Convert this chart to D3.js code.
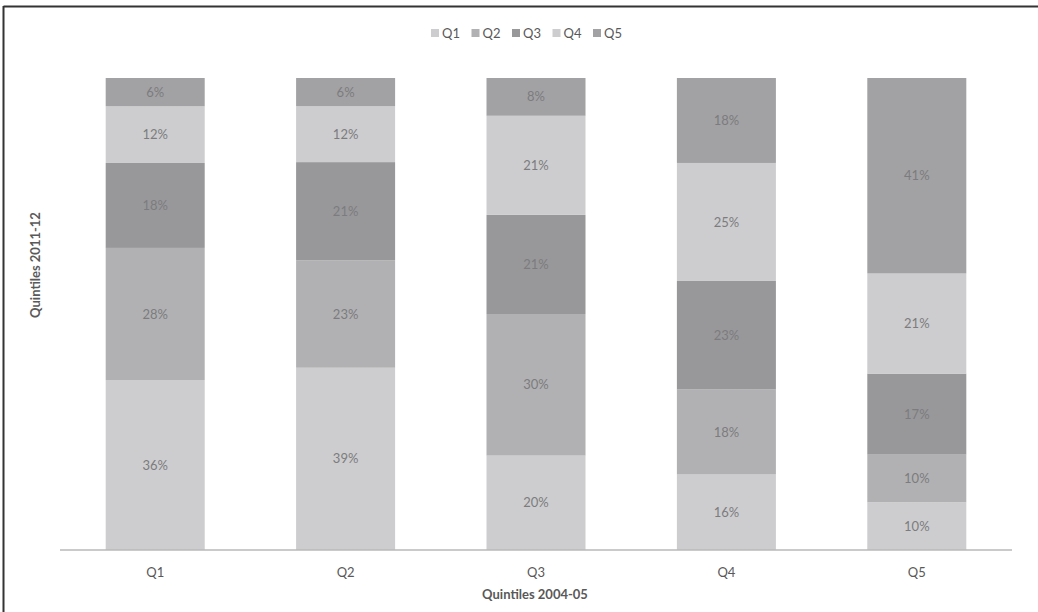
<!DOCTYPE html>
<html>
<head>
<meta charset="utf-8">
<script src="https://cdn.jsdelivr.net/npm/d3@7"></script>
<style>
  html, body { margin: 0; padding: 0; background: #fff; }
  svg { display: block; font-family: Lato, "Open Sans", "Liberation Sans", sans-serif; }
</style>
</head>
<body>
<svg id="chart" width="1038" height="612"></svg>
<script>
// Data
const categories = ["Q1", "Q2", "Q3", "Q4", "Q5"];          // Quintiles 2004-05
const seriesNames = ["Q1", "Q2", "Q3", "Q4", "Q5"];         // Quintiles 2011-12
const q1Values = [36, 39, 20, 16, 10];
const q2Values = [28, 23, 30, 18, 10];
const q3Values = [18, 21, 21, 23, 17];
const q4Values = [12, 12, 21, 25, 21];
const q5Values = [6, 6, 8, 18, 41];
const seriesValues = [q1Values, q2Values, q3Values, q4Values, q5Values];
const colors = ["#cdcdcf", "#b1b1b3", "#98989a", "#cdcdcf", "#a2a2a4"];

const table = categories.map((c, i) => {
  const row = { cat: c };
  seriesNames.forEach((s, j) => row[s] = seriesValues[j][i]);
  return row;
});

const svg = d3.select("#chart");
const W = 1038, H = 612;

// frame (top & left lines)
svg.append("line").attr("x1", 3.5).attr("x2", W).attr("y1", 6.5).attr("y2", 6.5)
  .attr("stroke", "#333").attr("stroke-width", 2);
svg.append("line").attr("x1", 3.5).attr("x2", 3.5).attr("y1", 6).attr("y2", H)
  .attr("stroke", "#333").attr("stroke-width", 2);

const plot = { left: 60, right: 1012, top: 78, bottom: 550 };

const x = d3.scaleBand().domain(categories).range([plot.left, plot.right]).paddingInner(0.48).paddingOuter(0.24);
const y = d3.scaleLinear().domain([0, 1]).range([plot.bottom, plot.top]);

const stack = d3.stack().keys(seriesNames).offset(d3.stackOffsetExpand);
const stacked = stack(table);

const layers = svg.append("g").selectAll("g").data(stacked).join("g")
  .attr("fill", (d, i) => colors[i]);

layers.selectAll("rect").data(d => d).join("rect")
  .attr("x", d => x(d.data.cat))
  .attr("width", x.bandwidth())
  .attr("y", d => y(d[1]))
  .attr("height", d => y(d[0]) - y(d[1]));

// segment labels
const labels = svg.append("g");
stacked.forEach((layer) => {
  layer.forEach(d => {
    labels.append("text")
      .attr("x", x(d.data.cat) + x.bandwidth() / 2)
      .attr("y", (y(d[0]) + y(d[1])) / 2)
      .attr("dy", "0.35em")
      .attr("text-anchor", "middle")
      .attr("font-size", 13)
      .attr("fill", "#7c7c7e")
      .text(d.data[layer.key] + "%");
  });
});

// x axis
const xAxis = svg.append("g").attr("transform", `translate(0,${plot.bottom})`)
  .call(d3.axisBottom(x).tickSize(0).tickPadding(18));
xAxis.select(".domain").attr("stroke", "#b8b8b8").attr("stroke-width", 1.5)
  .attr("d", `M${plot.left},0H${plot.right}`);
xAxis.selectAll("text").attr("font-size", 13).attr("fill", "#595959")
  .attr("font-family", "Lato, 'Open Sans', sans-serif");

// axis titles
svg.append("text").attr("x", (plot.left + plot.right) / 2 - 1).attr("y", 599)
  .attr("text-anchor", "middle").attr("font-size", 13).attr("font-weight", "bold")
  .attr("fill", "#595959").text("Quintiles 2004-05");
svg.append("text").attr("transform", "translate(40,265) rotate(-90)")
  .attr("text-anchor", "middle").attr("font-size", 13).attr("font-weight", "bold")
  .attr("fill", "#595959").text("Quintiles 2011-12");

// legend
const legend = svg.append("g").attr("transform", "translate(431,33)");
seriesNames.forEach((s, i) => {
  const g = legend.append("g").attr("transform", `translate(${i * 40.5},0)`);
  g.append("rect").attr("x", 0).attr("y", -4).attr("width", 8).attr("height", 8).attr("fill", colors[i]);
  g.append("text").attr("x", 11).attr("y", 0).attr("dy", "0.35em")
    .attr("font-size", 13).attr("fill", "#595959").text(s);
});
</script>
</body>
</html>
